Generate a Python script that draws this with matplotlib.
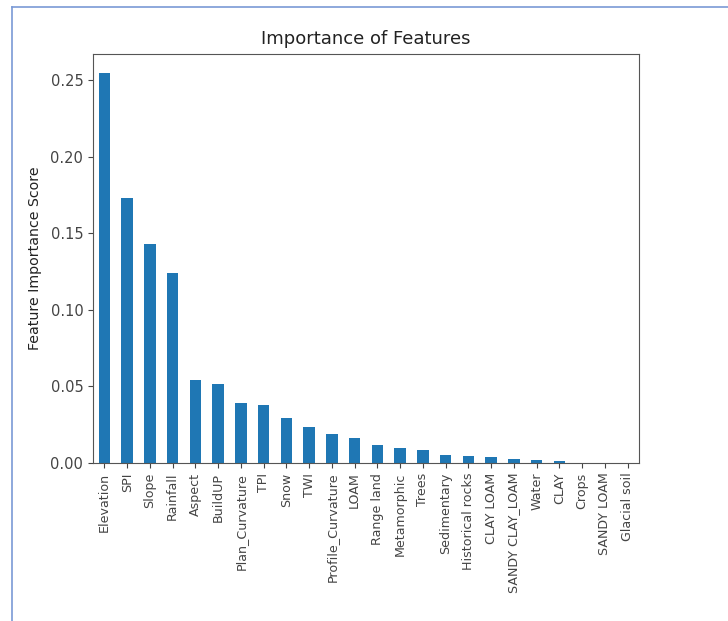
import matplotlib
matplotlib.use("Agg")
import matplotlib.pyplot as plt
from matplotlib.lines import Line2D

features = ["Elevation", "SPI", "Slope", "Rainfall", "Aspect", "BuildUP",
            "Plan_Curvature", "TPI", "Snow", "TWI", "Profile_Curvature", "LOAM",
            "Range land", "Metamorphic", "Trees", "Sedimentary", "Historical rocks",
            "CLAY LOAM", "SANDY CLAY_LOAM", "Water", "CLAY", "Crops", "SANDY LOAM",
            "Glacial soil"]
scores = [0.2545, 0.1734, 0.1433, 0.1240, 0.0543, 0.0515, 0.0390, 0.0380,
          0.0292, 0.0236, 0.0192, 0.0162, 0.0118, 0.0096, 0.0083, 0.0052,
          0.0048, 0.0039, 0.0026, 0.0017, 0.0016, 0.0002, 0.0001, 0.0001]

fig = plt.figure(figsize=(7.28, 6.21), dpi=100)
ax = fig.add_axes([93/728, 1-463/621, (639-93)/728, (463-54)/621])
x = list(range(len(features)))
ax.bar(x, scores, width=0.5, color="#1f77b4")
ax.set_xlim(-0.5, len(features) - 0.5)
ax.set_ylim(0, max(scores) * 1.05)
ax.set_xticks(x)
ax.set_xticklabels(features, rotation=90, fontsize=9.1, color="#222222")
ax.set_yticks([0, 0.05, 0.10, 0.15, 0.20, 0.25])
ax.set_yticklabels(["0.00", "0.05", "0.10", "0.15", "0.20", "0.25"], fontsize=10.5,
                   color="#222222")
ax.set_ylabel("Feature Importance Score", fontsize=10.2, color="#222222", labelpad=6)
ax.set_title("Importance of Features", fontsize=13, color="#222222", pad=7)
for s in ax.spines.values():
    s.set_color("#555555")
ax.tick_params(colors="#444444")

# frame lines of the screenshot
fig.add_artist(Line2D([12/728, 1.0], [1-7/621, 1-7/621], color="#7a9ad6", lw=1.2))
fig.add_artist(Line2D([12/728, 12/728], [0, 1-7/621], color="#7a9ad6", lw=1.2))

fig.savefig("out.png", dpi=100)
